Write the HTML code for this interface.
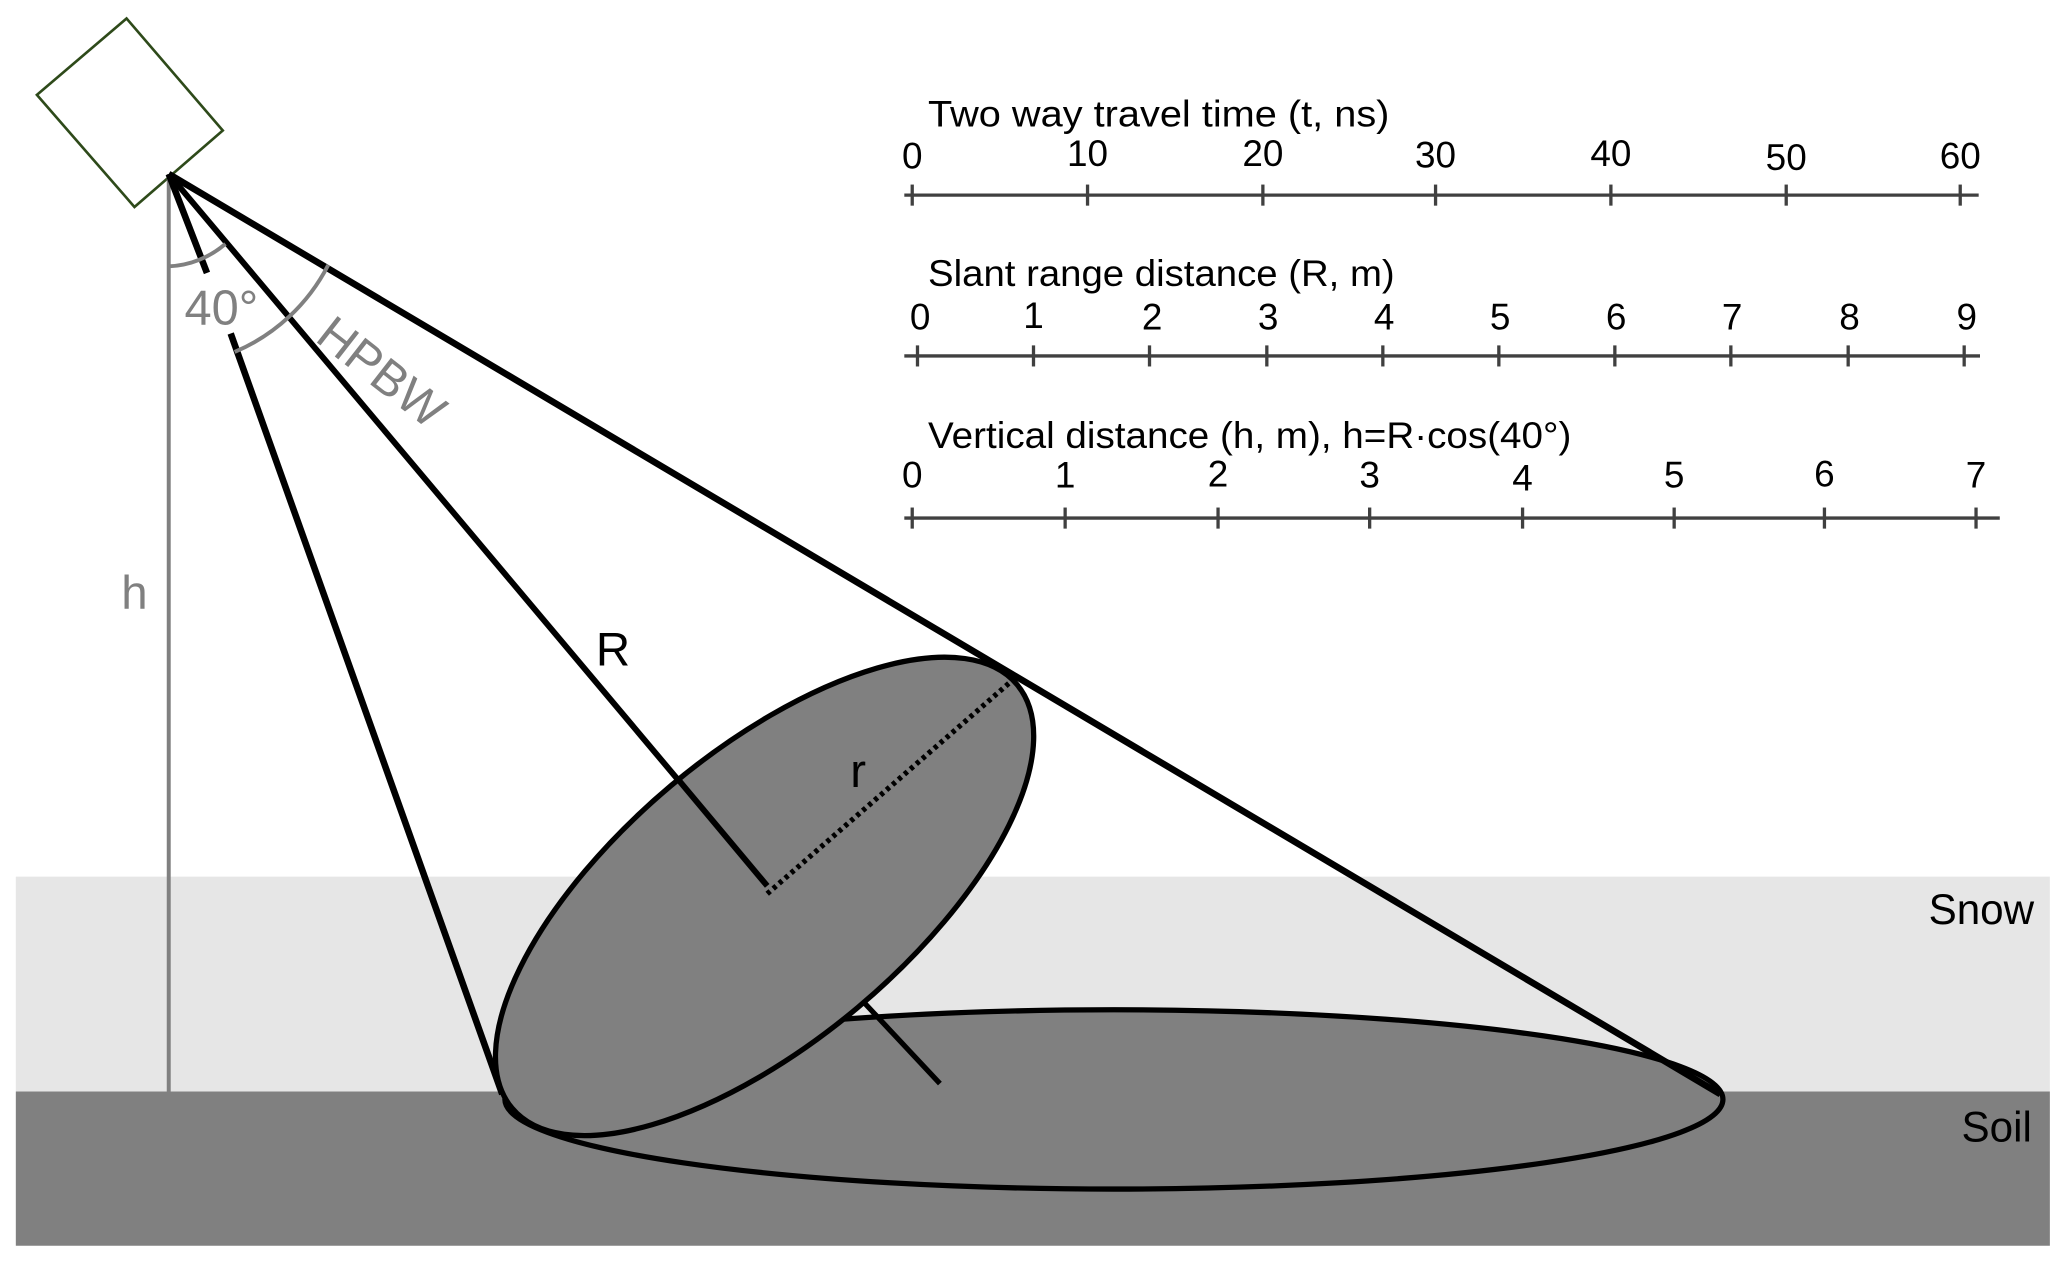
<!DOCTYPE html>
<html><head><style>html,body{margin:0;padding:0;background:#fff}svg{display:block}</style></head>
<body>
<svg width="2067" height="1265" viewBox="0 0 1568 959.6" xmlns="http://www.w3.org/2000/svg" font-family="Liberation Sans, sans-serif">
<rect x="12" y="665" width="1543" height="163" fill="#e6e6e6"/>
<rect x="12" y="828" width="1543" height="117" fill="#808080"/>
<polygon points="28,72 96,14 169,99 102,157" fill="#fff" stroke="#2e4a1a" stroke-width="2"/>
<line x1="128" y1="132" x2="128" y2="828" stroke="#808080" stroke-width="3"/>
<text x="92" y="462" font-size="36" fill="#808080">h</text>
<ellipse cx="845" cy="834" rx="462" ry="68" fill="#808080" stroke="#000" stroke-width="4"/>
<line x1="128" y1="132" x2="157" y2="207" stroke="#000" stroke-width="5"/>
<line x1="175" y1="253" x2="381" y2="830" stroke="#000" stroke-width="5"/>
<line x1="128" y1="132" x2="1305" y2="830" stroke="#000" stroke-width="5"/>
<line x1="128" y1="132" x2="582" y2="672" stroke="#000" stroke-width="4.5"/>
<path d="M128,202 A70,70 0 0 0 171,185" fill="none" stroke="#808080" stroke-width="3"/>
<path d="M178,267 A142,142 0 0 0 249,201" fill="none" stroke="#808080" stroke-width="3"/>
<text x="140" y="246" font-size="37" fill="#808080">40°</text>
<text x="0" y="0" font-size="37" fill="#808080" transform="translate(238,258) rotate(38)">HPBW</text>
<g transform="translate(580,680) rotate(-40)">
<ellipse cx="0" cy="0" rx="250" ry="110" fill="#808080" stroke="#000" stroke-width="4"/>
</g>
<line x1="515" y1="592" x2="582" y2="672" stroke="#000" stroke-width="4.5"/>
<line x1="582" y1="678" x2="768" y2="516" stroke="#000" stroke-width="4" stroke-dasharray="3,3"/>
<line x1="655" y1="760" x2="713" y2="822" stroke="#000" stroke-width="4"/>
<text x="452" y="505" font-size="36">R</text>
<text x="645" y="597" font-size="36">r</text>
<text x="1463" y="701" font-size="32">Snow</text>
<text x="1488" y="866" font-size="32">Soil</text>
<g font-size="28" fill="#000" stroke="#404040" stroke-width="2.5">
<text x="704" y="96" stroke="none" textLength="350" lengthAdjust="spacingAndGlyphs">Two way travel time (t, ns)</text>
<line x1="686" y1="148" x2="1501" y2="148"/>
<g text-anchor="middle">
<line x1="692" y1="140" x2="692" y2="156"/><text x="692" y="128" stroke="none">0</text>
<line x1="825" y1="140" x2="825" y2="156"/><text x="825" y="126" stroke="none">10</text>
<line x1="958" y1="140" x2="958" y2="156"/><text x="958" y="126" stroke="none">20</text>
<line x1="1089" y1="140" x2="1089" y2="156"/><text x="1089" y="127" stroke="none">30</text>
<line x1="1222" y1="140" x2="1222" y2="156"/><text x="1222" y="126" stroke="none">40</text>
<line x1="1355" y1="140" x2="1355" y2="156"/><text x="1355" y="129" stroke="none">50</text>
<line x1="1487" y1="140" x2="1487" y2="156"/><text x="1487" y="128" stroke="none">60</text>
</g>
<text x="704" y="217" stroke="none" textLength="354" lengthAdjust="spacingAndGlyphs">Slant range distance (R, m)</text>
<line x1="686" y1="270" x2="1502" y2="270"/>
<g text-anchor="middle">
<line x1="696" y1="262" x2="696" y2="278"/><text x="698" y="250" stroke="none">0</text>
<line x1="784" y1="262" x2="784" y2="278"/><text x="784" y="249" stroke="none">1</text>
<line x1="872" y1="262" x2="872" y2="278"/><text x="874" y="250" stroke="none">2</text>
<line x1="961" y1="262" x2="961" y2="278"/><text x="962" y="250" stroke="none">3</text>
<line x1="1049" y1="262" x2="1049" y2="278"/><text x="1050" y="250" stroke="none">4</text>
<line x1="1137" y1="262" x2="1137" y2="278"/><text x="1138" y="250" stroke="none">5</text>
<line x1="1225" y1="262" x2="1225" y2="278"/><text x="1226" y="250" stroke="none">6</text>
<line x1="1313" y1="262" x2="1313" y2="278"/><text x="1314" y="250" stroke="none">7</text>
<line x1="1402" y1="262" x2="1402" y2="278"/><text x="1403" y="250" stroke="none">8</text>
<line x1="1490" y1="262" x2="1490" y2="278"/><text x="1492" y="250" stroke="none">9</text>
</g>
<text x="704" y="340" stroke="none" textLength="488" lengthAdjust="spacingAndGlyphs">Vertical distance (h, m), h=R·cos(40°)</text>
<line x1="686" y1="393" x2="1517" y2="393"/>
<g text-anchor="middle">
<line x1="692" y1="385" x2="692" y2="401"/><text x="692" y="370" stroke="none">0</text>
<line x1="808" y1="385" x2="808" y2="401"/><text x="808" y="370" stroke="none">1</text>
<line x1="924" y1="385" x2="924" y2="401"/><text x="924" y="369" stroke="none">2</text>
<line x1="1039" y1="385" x2="1039" y2="401"/><text x="1039" y="370" stroke="none">3</text>
<line x1="1155" y1="385" x2="1155" y2="401"/><text x="1155" y="372" stroke="none">4</text>
<line x1="1270" y1="385" x2="1270" y2="401"/><text x="1270" y="370" stroke="none">5</text>
<line x1="1384" y1="385" x2="1384" y2="401"/><text x="1384" y="369" stroke="none">6</text>
<line x1="1499" y1="385" x2="1499" y2="401"/><text x="1499" y="370" stroke="none">7</text>
</g>
</g>
</svg>
</body></html>
